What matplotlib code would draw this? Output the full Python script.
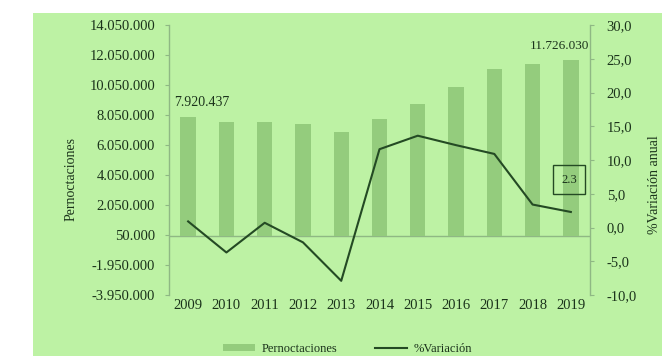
import matplotlib
matplotlib.use("Agg")
import matplotlib.pyplot as plt
from matplotlib.patches import Rectangle, Patch
from matplotlib.lines import Line2D
import numpy as np

years = ["2009", "2010", "2011", "2012", "2013", "2014", "2015", "2016", "2017", "2018", "2019"]
pernoctaciones = [7920437, 7580000, 7600000, 7470000, 6920000, 7760000,
                  8780000, 9900000, 11100000, 11460000, 11726030]
variacion = [0.9, -3.7, 0.7, -2.2, -7.9, 11.6, 13.6, 12.2, 10.9, 3.4, 2.3]
left_ticks = [-3950000, -1950000, 50000, 2050000, 4050000, 6050000,
              8050000, 10050000, 12050000, 14050000]
right_ticks = [-10, -5, 0, 5, 10, 15, 20, 25, 30]

plt.rcParams['font.family'] = ['Liberation Serif', 'DejaVu Serif']

BG = '#bdf2a4'
BAR = '#94cc7d'
LINE = '#244a24'
SPINE = '#8fb884'
TXT = '#1b331b'

fig = plt.figure(figsize=(6.62, 3.56), dpi=100)
fig.patch.set_facecolor('white')
fig.add_artist(Rectangle((33 / 662, 0), 1 - 33 / 662, 1 - 13 / 356,
                         transform=fig.transFigure, facecolor=BG,
                         edgecolor='none', zorder=0))

ax = fig.add_axes([169 / 662, 1 - 295 / 356, 421 / 662, 270 / 356])
ax.set_facecolor('none')
x = np.arange(len(years))
ax.bar(x, pernoctaciones, width=0.4, color=BAR, zorder=2)
ax.set_xlim(-0.5, len(years) - 0.5)
ax.set_ylim(-3950000, 14050000)
ax.set_yticks(left_ticks)
ax.set_yticklabels([f"{v:,}".replace(",", ".") for v in left_ticks])
ax.axhline(0, color=SPINE, lw=1, zorder=1)
ax.set_xticks(x)
ax.set_xticklabels(years)
ax.tick_params(axis='x', length=0, pad=3, labelsize=10.5, colors=TXT)
ax.tick_params(axis='y', length=3, width=0.8, color=SPINE, pad=7,
               labelsize=10.5, labelcolor=TXT)
for s in ['top', 'bottom', 'right']:
    ax.spines[s].set_visible(False)
ax.spines['left'].set_color(SPINE)
ax.spines['left'].set_linewidth(1)

ax.annotate(f"{pernoctaciones[0]:,}".replace(",", "."), (x[0], pernoctaciones[0]),
            xytext=(-10, 6), textcoords='offset points', ha='left', va='bottom',
            fontsize=10, color=TXT)
ax.annotate(f"{pernoctaciones[-1]:,}".replace(",", "."), (x[-1], pernoctaciones[-1]),
            xytext=(13, 6), textcoords='offset points', ha='right', va='bottom',
            fontsize=9.5, color=TXT)

ax2 = ax.twinx()
ax2.set_ylim(-10, 30)
ax2.set_yticks(right_ticks)
ax2.set_yticklabels([f"{v:.1f}".replace(".", ",") for v in right_ticks])
ax2.plot(x, variacion, color=LINE, lw=1.5, zorder=3)
ax2.tick_params(axis='y', length=3, width=0.8, color=SPINE, pad=9,
                labelsize=10.5, labelcolor=TXT)
for s in ['top', 'bottom', 'left']:
    ax2.spines[s].set_visible(False)
ax2.spines['right'].set_color(SPINE)
ax2.spines['right'].set_linewidth(1)

ax2.annotate(f"{variacion[-1]}", (x[-1], variacion[-1]), xytext=(-1, 19),
             textcoords='offset points', ha='center', va='bottom',
             fontsize=9, color=TXT,
             bbox=dict(boxstyle='square,pad=0.65', facecolor='none',
                       edgecolor=LINE, lw=1))

fig.text(71 / 662, 1 - 179 / 356, "Pernoctaciones", rotation=90,
         ha='center', va='center', fontsize=10, color=TXT)
fig.text(655 / 662, 1 - 185 / 356, "%Variación anual", rotation=90,
         ha='center', va='center', fontsize=10, color=TXT)

handles = [Patch(facecolor=BAR, edgecolor='none'),
           Line2D([0], [0], color=LINE, lw=1.5)]
fig.legend(handles, ["Pernoctaciones", "%Variación"], loc='center',
           bbox_to_anchor=(0.525, 1 - 349 / 356), ncol=2, frameon=False,
           fontsize=9, handlelength=2.6, handleheight=0.5, columnspacing=3,
           handletextpad=0.5, labelcolor=TXT)

fig.savefig("out.png", dpi=100, facecolor='white')
